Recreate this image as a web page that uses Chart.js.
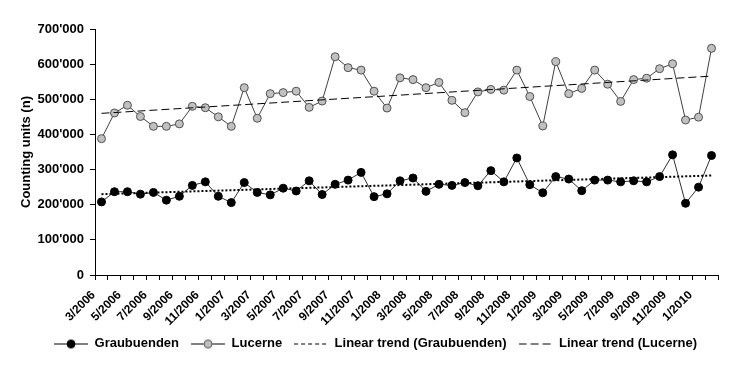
<!DOCTYPE html>
<html>
<head>
<meta charset="utf-8">
<script src="https://cdn.jsdelivr.net/npm/chart.js@4.4.1/dist/chart.umd.min.js"></script>
<style>
  body { margin: 0; background: #fff; }
</style>
</head>
<body>
<canvas id="countChart" width="740" height="370"></canvas>
<script>
const months = [
  "3/2006", "4/2006", "5/2006", "6/2006", "7/2006", "8/2006", "9/2006", "10/2006", "11/2006", "12/2006",
  "1/2007", "2/2007", "3/2007", "4/2007", "5/2007", "6/2007", "7/2007", "8/2007", "9/2007", "10/2007", "11/2007", "12/2007",
  "1/2008", "2/2008", "3/2008", "4/2008", "5/2008", "6/2008", "7/2008", "8/2008", "9/2008", "10/2008", "11/2008", "12/2008",
  "1/2009", "2/2009", "3/2009", "4/2009", "5/2009", "6/2009", "7/2009", "8/2009", "9/2009", "10/2009", "11/2009", "12/2009",
  "1/2010", "2/2010",
];

const graubuenden = [
  208000, 237000, 237000, 230000, 235000, 213000, 224000, 255000, 265000, 224000, 206000, 263000, 235000, 228000, 247000, 239000,
  268000, 229000, 258000, 270000, 292000, 223000, 231000, 268000, 276000, 238000, 258000, 255000, 263000, 254000, 297000, 265000,
  333000, 257000, 234000, 280000, 273000, 240000, 270000, 270000, 265000, 268000, 265000, 280000, 342000, 204000, 250000, 340000,
];

const lucerne = [
  388000, 461000, 483000, 451000, 423000, 423000, 430000, 480000, 476000, 450000, 423000, 533000, 446000, 516000, 519000, 523000,
  477000, 495000, 621000, 590000, 583000, 523000, 475000, 561000, 556000, 533000, 548000, 497000, 462000, 521000, 528000, 526000,
  583000, 508000, 424000, 607000, 516000, 531000, 583000, 543000, 494000, 556000, 560000, 587000, 601000, 441000, 449000, 645000,
];

// trend line end values (first and last month)
const trendGraubuenden = [230000, 283000];
const trendLucerne = [460000, 566000];

const yTicks = [0, 100000, 200000, 300000, 400000, 500000, 600000, 700000];

const trendData = (ends) => months.map((m, i) => (i === 0 ? ends[0] : i === months.length - 1 ? ends[1] : null));

const fmt = (v) => (v === 0 ? "0" : Math.round(v / 1000) + "'000");

// small legend symbols
const legendSymbol = (fill, dash) => {
  const c = document.createElement("canvas");
  c.width = 34;
  c.height = 12;
  const ctx = c.getContext("2d");
  ctx.strokeStyle = "#000";
  ctx.lineWidth = 1;
  if (dash) ctx.setLineDash(dash);
  ctx.beginPath();
  ctx.moveTo(0, 6.5);
  ctx.lineTo(34, 6.5);
  ctx.stroke();
  if (fill) {
    ctx.setLineDash([]);
    ctx.fillStyle = fill;
    ctx.beginPath();
    ctx.arc(17, 6.5, 4, 0, Math.PI * 2);
    ctx.fill();
    ctx.strokeStyle = fill === "#000" ? "#000" : "#505050";
    ctx.stroke();
  }
  return c;
};

const boldFont = (size) => ({ family: "'Liberation Sans', Arial, sans-serif", size: size, weight: "bold" });

// nudge the legend a little to the right, like the original
const legendShift = {
  id: "legendShift",
  afterLayout: (chart) => {
    chart.legend.left += 7;
    chart.legend.right += 7;
  },
};

const ctx = document.getElementById("countChart").getContext("2d");

const countChart = new Chart(ctx, {
  type: "line",
  data: {
    labels: months,
    datasets: [
      {
        label: "Linear trend (Graubuenden)",
        data: trendData(trendGraubuenden),
        borderColor: "#000",
        borderWidth: 2,
        borderDash: [2, 2],
        pointRadius: 0,
        spanGaps: true,
        fill: false,
      },
      {
        label: "Linear trend (Lucerne)",
        data: trendData(trendLucerne),
        borderColor: "#000",
        borderWidth: 1,
        borderDash: [8, 4],
        pointRadius: 0,
        spanGaps: true,
        fill: false,
      },
      {
        label: "Graubuenden",
        data: graubuenden,
        borderColor: "#303030",
        borderWidth: 1,
        pointBackgroundColor: "#000",
        pointBorderColor: "#000",
        pointRadius: 4,
        pointBorderWidth: 1,
        tension: 0,
        fill: false,
      },
      {
        label: "Lucerne",
        data: lucerne,
        borderColor: "#404040",
        borderWidth: 1,
        pointBackgroundColor: "#c0c0c0",
        pointBorderColor: "#505050",
        pointRadius: 4,
        pointBorderWidth: 1,
        tension: 0,
        fill: false,
      },
    ],
  },
  options: {
    responsive: false,
    animation: false,
    layout: {
      padding: { left: 19, right: 22, top: 29, bottom: 10 },
    },
    plugins: {
      tooltip: { enabled: false },
      legend: {
        position: "bottom",
        labels: {
          usePointStyle: true,
          pointStyleWidth: 34,
          padding: 12,
          color: "#000",
          font: boldFont(13),
          generateLabels: () => [
            { text: "Graubuenden", pointStyle: legendSymbol("#000"), datasetIndex: 2, fontColor: "#000" },
            { text: "Lucerne", pointStyle: legendSymbol("#c0c0c0"), datasetIndex: 3, fontColor: "#000" },
            { text: "Linear trend (Graubuenden)", pointStyle: legendSymbol(null, [4, 3]), datasetIndex: 0, fontColor: "#000" },
            { text: "Linear trend (Lucerne)", pointStyle: legendSymbol(null, [8, 4]), datasetIndex: 1, fontColor: "#000" },
          ],
        },
      },
    },
    scales: {
      x: {
        offset: true,
        grid: {
          offset: true,
          drawOnChartArea: false,
          tickLength: 5,
          color: "#000",
        },
        border: { color: "#000", width: 1 },
        ticks: {
          autoSkip: false,
          maxRotation: 45,
          minRotation: 45,
          padding: 8,
          labelOffset: -8,
          color: "#000",
          font: boldFont(12),
          callback: (v, i) => (i % 2 === 0 ? months[i] : ""),
        },
        afterFit: (scale) => {
          scale.height = 50;
        },
      },
      y: {
        min: 0,
        max: 700000,
        afterBuildTicks: (scale) => {
          scale.ticks = yTicks.map((v) => ({ value: v }));
        },
        grid: {
          drawOnChartArea: false,
          tickLength: 5,
          color: "#000",
        },
        border: { color: "#000", width: 1 },
        ticks: {
          padding: 6,
          color: "#000",
          font: boldFont(13),
          callback: (v) => fmt(v),
        },
        title: {
          display: true,
          text: "Counting units (n)",
          color: "#000",
          font: boldFont(13),
          padding: 0,
        },
        afterFit: (scale) => {
          scale.width = 76;
        },
      },
    },
  },
  plugins: [legendShift],
});
</script>
</body>
</html>
